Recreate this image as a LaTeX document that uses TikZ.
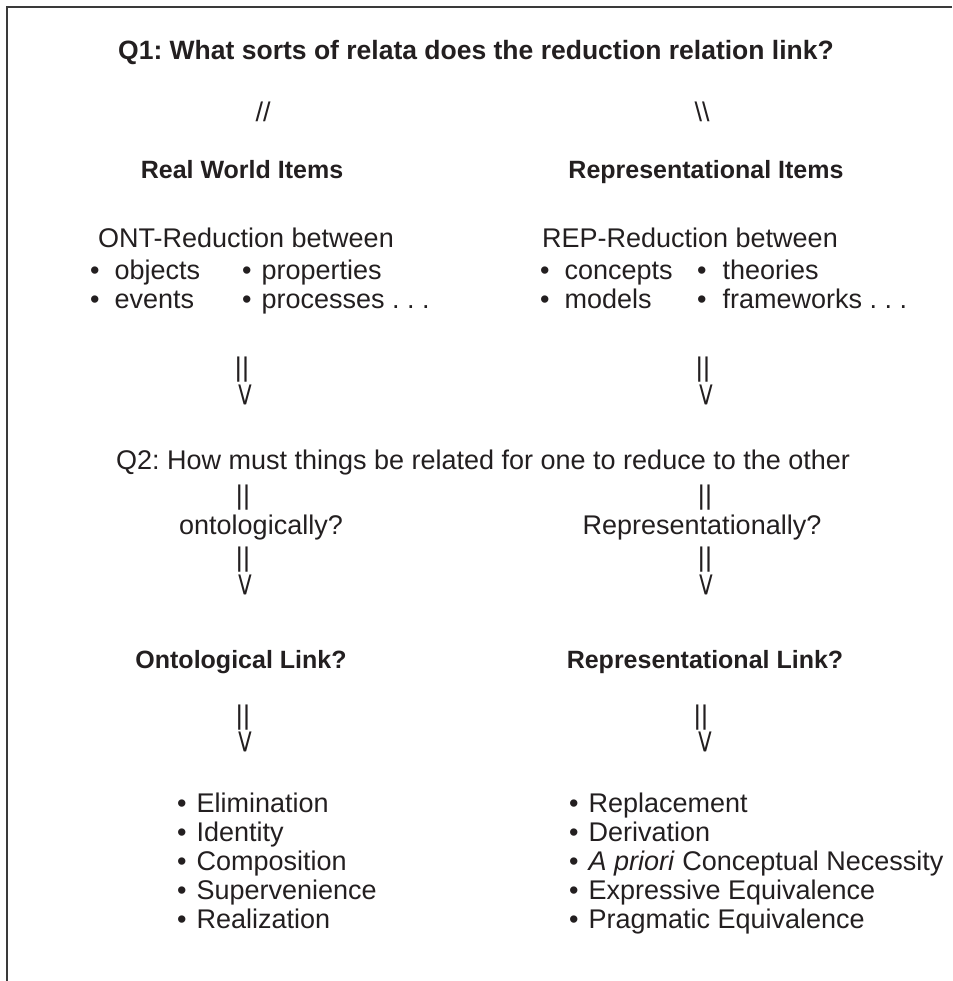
\documentclass[tikz,border=0pt]{standalone}
\usepackage{fontspec}
\setmainfont{Liberation Sans}
\frenchspacing
\definecolor{ink}{HTML}{231F20}
\definecolor{framec}{HTML}{3A3A3A}
\newcommand\mybul[1]{\textbullet\hspace{#1}}
\newcommand\downv{\textbackslash\kern-0.06em/}
\begin{document}
\begin{tikzpicture}[x=1pt,y=-1pt,
  txt/.style={inner sep=0pt, text=ink, font=\fontsize{27}{31}\selectfont, text height=19pt, text depth=6pt},
  hd/.style={txt, font=\fontsize{25}{29}\selectfont\bfseries},
  ttl/.style={txt, font=\fontsize{26.5}{30}\selectfont\bfseries},
  lft/.style={txt, anchor=west},
  frame/.style={draw=framec, line width=1.5pt}]
\useasboundingbox (0,0) rectangle (952,981);
\draw[frame] (952,7) -- (7,7) -- (7,981);

\node[ttl] (title) at (476,53) {Q1: What sorts of relata does the reduction relation link?};
\node[txt] (sl) at (263,115) {//};
\node[txt] (bs) at (702,115) {\textbackslash\textbackslash};

\node[hd] (rw) at (242,172) {Real World Items};
\node[hd] (ri) at (706,172) {Representational Items};

\node[txt] (ont) at (246,241) {ONT-Reduction between};
\node[lft] (o1) at (90,273) {\mybul{15pt}objects};
\node[lft] (o2) at (242,273) {\mybul{10pt}properties};
\node[lft] (o3) at (90,302) {\mybul{15pt}events};
\node[lft] (o4) at (242,302) {\mybul{10pt}processes . . .};

\node[txt] (rep) at (690,241) {REP-Reduction between};
\node[lft] (r1) at (540,273) {\mybul{15pt}concepts};
\node[lft] (r2) at (697,273) {\mybul{16pt}theories};
\node[lft] (r3) at (540,302) {\mybul{15pt}models};
\node[lft] (r4) at (697,302) {\mybul{16pt}frameworks . . .};

\node[txt] (la1) at (242,370) {||};
\node[txt] (lv1) at (245,398) {\downv};
\node[txt] (ra1) at (703,370) {||};
\node[txt] (rv1) at (706,398) {\downv};

\node[txt] (q2) at (483,463) {Q2: How must things be related for one to reduce to the other};

\node[txt] (la2) at (243,498) {||};
\node[txt] (onto) at (261,528) {ontologically?};
\node[txt] (la3) at (243,560) {||};
\node[txt] (lv2) at (245,588) {\downv};

\node[txt] (ra2) at (705,498) {||};
\node[txt] (repr) at (702,528) {Representationally?};
\node[txt] (ra3) at (705,560) {||};
\node[txt] (rv2) at (706,588) {\downv};

\node[hd] (ol) at (241,662) {Ontological Link?};
\node[hd] (rl) at (705,662) {Representational Link?};

\node[txt] (la4) at (243,718) {||};
\node[txt] (lv3) at (245,745) {\downv};
\node[txt] (ra4) at (701,718) {||};
\node[txt] (rv3) at (705,745) {\downv};

\node[lft] (e1) at (177,806) {\mybul{10pt}Elimination};
\node[lft] (e2) at (177,835) {\mybul{10pt}Identity};
\node[lft] (e3) at (177,864) {\mybul{10pt}Composition};
\node[lft] (e4) at (177,893) {\mybul{10pt}Supervenience};
\node[lft] (e5) at (177,922) {\mybul{10pt}Realization};

\node[lft] (p1) at (569,806) {\mybul{10pt}Replacement};
\node[lft] (p2) at (569,835) {\mybul{10pt}Derivation};
\node[lft] (p3) at (569,864) {\mybul{10pt}\textit{A priori} Conceptual Necessity};
\node[lft] (p4) at (569,893) {\mybul{10pt}Expressive Equivalence};
\node[lft] (p5) at (569,922) {\mybul{10pt}Pragmatic Equivalence};
\end{tikzpicture}
\end{document}
